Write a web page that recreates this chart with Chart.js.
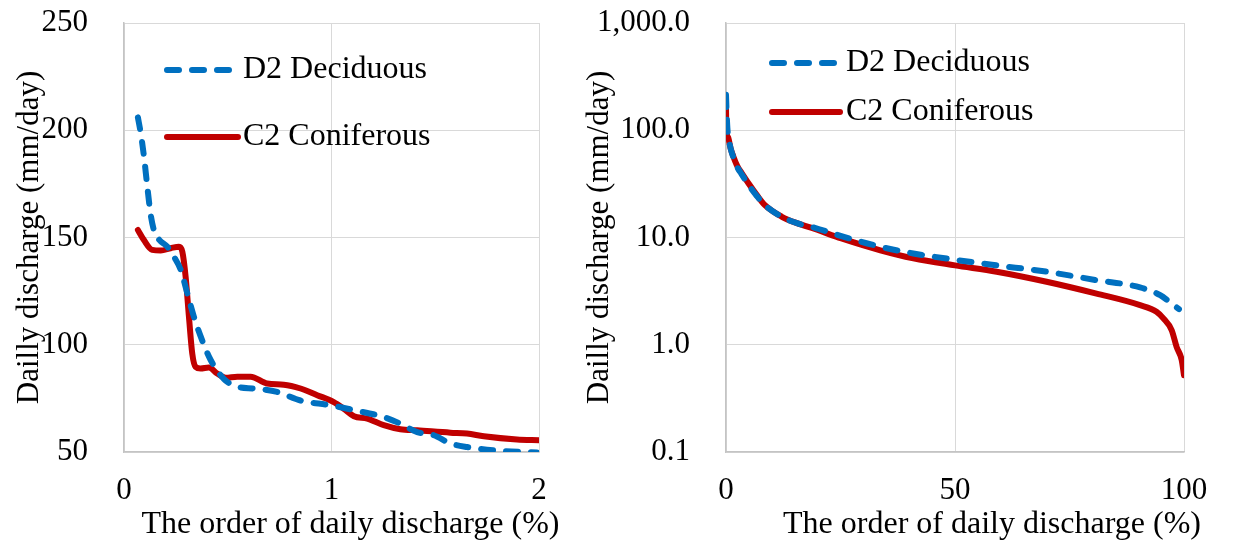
<!DOCTYPE html>
<html>
<head>
<meta charset="utf-8">
<script src="https://cdn.jsdelivr.net/npm/chart.js@4"></script>
<style>
  html, body { margin: 0; padding: 0; background: #fff; }
  .wrap { position: relative; width: 1243px; height: 546px; }
  .panel { position: absolute; top: 0; height: 546px; }
  #left { left: 0; width: 570px; }
  #right { left: 570px; width: 673px; }
</style>
</head>
<body>
<div class="wrap">
  <div class="panel" id="left"><canvas id="topChart"></canvas></div>
  <div class="panel" id="right"><canvas id="fullChart"></canvas></div>
</div>
<script>
  'use strict';

  const seriesNames = ['D2 Deciduous', 'C2 Coniferous'];

  // top 2 % of the flow duration curve (linear axis)
  const topD2X = [0.067, 0.08, 0.096, 0.112, 0.128, 0.144, 0.169, 0.209, 0.241, 0.273, 0.305, 0.337, 0.369, 0.417, 0.482, 0.546, 0.626, 0.738, 0.851, 0.995, 1.108, 1.252, 1.332, 1.413, 1.493, 1.573, 1.653, 1.814, 1.99];
  const topD2Y = [206, 199, 188, 174, 161, 153.5, 149, 145.7, 141, 135, 124, 113, 104, 93, 84, 80.4, 79.6, 78, 74, 71.8, 69.5, 66.3, 63.2, 59.3, 57.8, 54, 52.3, 50.5, 49.8];
  const topC2X = [0.067, 0.096, 0.136, 0.177, 0.225, 0.265, 0.281, 0.297, 0.313, 0.329, 0.345, 0.369, 0.409, 0.449, 0.49, 0.546, 0.61, 0.69, 0.77, 0.851, 0.931, 1.011, 1.059, 1.108, 1.172, 1.252, 1.332, 1.413, 1.573, 1.653, 1.734, 1.894, 2.0];
  const topC2Y = [153.5, 148.8, 144.2, 143.9, 145, 145.7, 143.4, 131.7, 113, 95.9, 89.7, 88.9, 89.4, 86.6, 84.6, 85.1, 85.1, 81.9, 81.4, 79.6, 76.5, 73.3, 70.2, 66.7, 65.6, 62.5, 60.6, 60.1, 59, 58.6, 57.3, 55.8, 55.5];

  // whole record (log axis)
  const fullD2X = [0, 0.1, 0.3, 0.5, 1, 1.6, 2.5, 3.4, 4.9, 6.7, 8.5, 12.2, 15.5, 19.4, 25.2, 33.7, 40.9, 50, 59.1, 70, 80.9, 90.4, 94.8, 96.9, 98.9];
  const fullD2Y = [214, 160, 105, 88, 68, 56, 45, 39, 31, 24.5, 20, 15.6, 13.6, 12.3, 10.3, 8.2, 7.1, 6.2, 5.5, 4.8, 4.0, 3.43, 2.9, 2.5, 2.15];
  const fullC2X = [0, 0.05, 0.15, 0.5, 1, 1.6, 2.5, 3.4, 4.9, 6.7, 8.5, 12.2, 15.5, 19.4, 25.2, 33.7, 40.9, 50, 59.1, 70, 80.9, 90.4, 94, 95.5, 97.3, 98.4, 99.5, 100];
  const fullC2Y = [162, 120, 95, 85, 68, 57, 46, 40, 32, 25, 20, 15.6, 13.6, 12, 9.8, 7.6, 6.4, 5.5, 4.8, 3.87, 3.0, 2.34, 2.03, 1.76, 1.37, 0.95, 0.72, 0.52];

  const topXTicks = [0, 1, 2];
  const topYTicks = [50, 100, 150, 200, 250];
  const fullXTicks = [0, 50, 100];
  const fullYTicks = [0.1, 1, 10, 100, 1000];

  const xTitle = 'The order of daily discharge (%)';
  const yTitle = 'Dailly discharge (mm/day)';

  const FONT = "'Liberation Serif', 'Times New Roman', serif";
  const GRID = '#d9d9d9';
  const BORDER = '#c4c4c4';

  function toPoints(xs, ys) {
    return xs.map((x, i) => ({ x: x, y: ys[i] }));
  }

  function makeDatasets(d2x, d2y, c2x, c2y) {
    const common = {
      borderWidth: 6,
      pointRadius: 0,
      fill: false,
      cubicInterpolationMode: 'monotone',
      borderJoinStyle: 'round',
      borderCapStyle: 'round'
    };
    return [
      Object.assign({}, common, {
        label: seriesNames[0],
        data: toPoints(d2x, d2y),
        borderColor: '#0070c0',
        borderDash: [12, 13]
      }),
      Object.assign({}, common, {
        label: seriesNames[1],
        data: toPoints(c2x, c2y),
        borderColor: '#c00000'
      })
    ];
  }

  // legend drawn inside the plot area
  const insideLegend = {
    id: 'insideLegend',
    afterDatasetsDraw(chart, args, opts) {
      const { ctx, chartArea } = chart;
      ctx.save();
      chart.data.datasets.forEach((ds, i) => {
        const y = chartArea.top + opts.rows[i];
        ctx.beginPath();
        ctx.lineWidth = ds.borderWidth;
        ctx.strokeStyle = ds.borderColor;
        ctx.lineCap = 'round';
        ctx.setLineDash(ds.borderDash || []);
        ctx.moveTo(chartArea.left + opts.lineStart, y);
        ctx.lineTo(chartArea.left + opts.lineEnd, y);
        ctx.stroke();
        ctx.setLineDash([]);
        ctx.fillStyle = '#000';
        ctx.font = '32px ' + FONT;
        ctx.textAlign = 'left';
        ctx.textBaseline = 'middle';
        ctx.fillText(ds.label, chartArea.left + opts.textStart, y);
      });
      ctx.restore();
    }
  };

  // x axis caption, sits a little right of the plot centre
  const xCaption = {
    id: 'xCaption',
    afterDraw(chart, args, opts) {
      const { ctx, chartArea } = chart;
      ctx.save();
      ctx.fillStyle = '#000';
      ctx.font = '32px ' + FONT;
      ctx.textAlign = 'center';
      ctx.textBaseline = 'middle';
      ctx.fillText(opts.text, (chartArea.left + chartArea.right) / 2 + opts.shift, chart.height - 21);
      ctx.restore();
    }
  };

  function axis(type, min, max, tickValues, title, fixedSize, isX, format) {
    return {
      type: type,
      min: min,
      max: max,
      afterBuildTicks: scale => {
        scale.ticks = tickValues.map(v => ({ value: v }));
      },
      afterFit: scale => {
        if (isX) scale.height = fixedSize;
        else scale.width = fixedSize;
        // keep the plot box where the layout padding puts it
        scale.paddingTop = 0;
        scale.paddingBottom = 0;
        scale.paddingLeft = 0;
        scale.paddingRight = 0;
      },
      grid: { color: GRID, lineWidth: 1, drawTicks: false },
      border: { color: BORDER, width: 1.5 },
      ticks: {
        color: '#000',
        padding: isX ? 20 : 36,
        font: { family: FONT, size: 31 },
        callback: format
      },
      title: {
        display: !isX,
        text: title,
        color: '#000',
        font: { family: FONT, size: 31 },
        padding: { top: 11, bottom: 0 }
      }
    };
  }

  function createChart(canvasId, datasets, scales, legendOpts, captionOpts, padRight) {
    const ctx = document.getElementById(canvasId).getContext('2d');
    return new Chart(ctx, {
      type: 'line',
      data: { datasets: datasets },
      options: {
        responsive: true,
        maintainAspectRatio: false,
        animation: false,
        layout: { padding: { top: 23, right: padRight, left: 0, bottom: 0 } },
        plugins: {
          legend: { display: false },
          tooltip: { enabled: false },
          insideLegend: legendOpts,
          xCaption: captionOpts
        },
        scales: scales
      },
      plugins: [insideLegend, xCaption]
    });
  }

  createChart('topChart',
    makeDatasets(topD2X, topD2Y, topC2X, topC2Y),
    {
      x: axis('linear', 0, 2, topXTicks, xTitle, 94, true, v => String(v)),
      y: axis('linear', 50, 250, topYTicks, yTitle, 124, false, v => String(v))
    },
    { lineStart: 43, lineEnd: 114, textStart: 119, rows: [47, 114] },
    { text: xTitle, shift: 19 },
    31
  );

  createChart('fullChart',
    makeDatasets(fullD2X, fullD2Y, fullC2X, fullC2Y),
    {
      x: axis('linear', 0, 100, fullXTicks, xTitle, 94, true, v => String(v)),
      y: axis('logarithmic', 0.1, 1000, fullYTicks, yTitle, 156, false,
        v => Number(v).toLocaleString('en-US', { minimumFractionDigits: 1, maximumFractionDigits: 1 }))
    },
    { lineStart: 46, lineEnd: 114, textStart: 120, rows: [40, 89] },
    { text: xTitle, shift: 37 },
    59
  );
</script>
</body>
</html>
